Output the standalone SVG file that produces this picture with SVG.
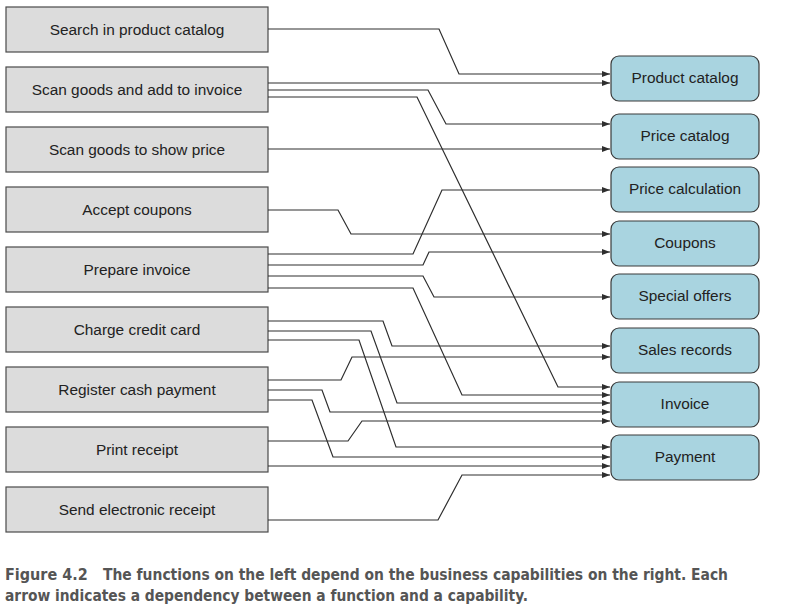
<svg xmlns="http://www.w3.org/2000/svg" width="790" height="610" viewBox="0 0 790 610">
<style>
.fn rect{fill:#dcdcdc;stroke:#4a4a4a;stroke-width:1.2}
.cap rect{fill:#a9d4e0;stroke:#3a3a3a;stroke-width:1.2}
.fn text,.cap text{font-family:"Liberation Sans",Arial,sans-serif;font-size:15.4px;fill:#222;text-anchor:middle}
#connectors path{fill:none;stroke:#2e2e2e;stroke-width:1.2;marker-end:url(#arr)}
.caption{font-family:"Liberation Sans Narrow","DejaVu Sans Condensed",sans-serif;font-weight:bold;font-size:16px;fill:#555}
</style>
<defs>
<marker id="arr" markerUnits="userSpaceOnUse" markerWidth="9" markerHeight="7" refX="8" refY="3" orient="auto">
<path d="M0,0 L8,3 L0,6 z" fill="#2e2e2e"/>
</marker>
</defs>
<rect width="790" height="610" fill="#fff"/>
<g id="fn-search" class="fn"><rect x="6" y="7" width="262" height="45"/><text x="137" y="35">Search in product catalog</text></g>
<g id="fn-scan-add" class="fn"><rect x="6" y="67" width="262" height="45"/><text x="137" y="95">Scan goods and add to invoice</text></g>
<g id="fn-scan-show" class="fn"><rect x="6" y="127" width="262" height="45"/><text x="137" y="155">Scan goods to show price</text></g>
<g id="fn-coupons" class="fn"><rect x="6" y="187" width="262" height="45"/><text x="137" y="215">Accept coupons</text></g>
<g id="fn-prepare" class="fn"><rect x="6" y="247" width="262" height="45"/><text x="137" y="275">Prepare invoice</text></g>
<g id="fn-charge" class="fn"><rect x="6" y="307" width="262" height="45"/><text x="137" y="335">Charge credit card</text></g>
<g id="fn-cash" class="fn"><rect x="6" y="367" width="262" height="45"/><text x="137" y="395">Register cash payment</text></g>
<g id="fn-print" class="fn"><rect x="6" y="427" width="262" height="45"/><text x="137" y="455">Print receipt</text></g>
<g id="fn-send" class="fn"><rect x="6" y="487" width="262" height="45"/><text x="137" y="515">Send electronic receipt</text></g>

<g id="cap-product" class="cap"><rect x="611" y="56" width="148" height="45" rx="8"/><text x="685" y="83">Product catalog</text></g>
<g id="cap-price" class="cap"><rect x="611" y="114" width="148" height="45" rx="8"/><text x="685" y="141">Price catalog</text></g>
<g id="cap-calc" class="cap"><rect x="611" y="167" width="148" height="45" rx="8"/><text x="685" y="194">Price calculation</text></g>
<g id="cap-coupons" class="cap"><rect x="611" y="221" width="148" height="45" rx="8"/><text x="685" y="248">Coupons</text></g>
<g id="cap-offers" class="cap"><rect x="611" y="274" width="148" height="45" rx="8"/><text x="685" y="301">Special offers</text></g>
<g id="cap-sales" class="cap"><rect x="611" y="328" width="148" height="45" rx="8"/><text x="685" y="355">Sales records</text></g>
<g id="cap-invoice" class="cap"><rect x="611" y="382" width="148" height="45" rx="8"/><text x="685" y="409">Invoice</text></g>
<g id="cap-payment" class="cap"><rect x="611" y="435" width="148" height="45" rx="8"/><text x="685" y="462">Payment</text></g>

<g id="connectors">
<path d="M268,29 H439 L459,74 H610"/>
<path d="M268,83 H610"/>
<path d="M268,90 H428 L446,124 H610"/>
<path d="M268,97 H417 L558,387 H610"/>
<path d="M268,149 H610"/>
<path d="M268,210 H338 L351,234 H610"/>
<path d="M268,254 H413 L442,190 H610"/>
<path d="M268,265 H423 L429,252 H610"/>
<path d="M268,276 H423 L434,297 H610"/>
<path d="M268,288 H413 L462,395 H610"/>
<path d="M268,321 H383 L392,346 H610"/>
<path d="M268,331 H371 L397,403 H610"/>
<path d="M268,340 H359 L396,447 H610"/>
<path d="M268,380 H341 L352,357 H610"/>
<path d="M268,390 H322 L330,412 H610"/>
<path d="M268,400 H312 L333,457 H610"/>
<path d="M268,441 H348 L362,421 H610"/>
<path d="M268,466 H610"/>
<path d="M268,520 H438 L462,475 H610"/>
</g>

<text class="caption" x="5" y="580"><tspan>Figure 4.2</tspan><tspan x="103" textLength="625" lengthAdjust="spacingAndGlyphs">The functions on the left depend on the business capabilities on the right. Each</tspan></text>
<text class="caption" x="5" y="601" textLength="523" lengthAdjust="spacingAndGlyphs">arrow indicates a dependency between a function and a capability.</text>
</svg>
